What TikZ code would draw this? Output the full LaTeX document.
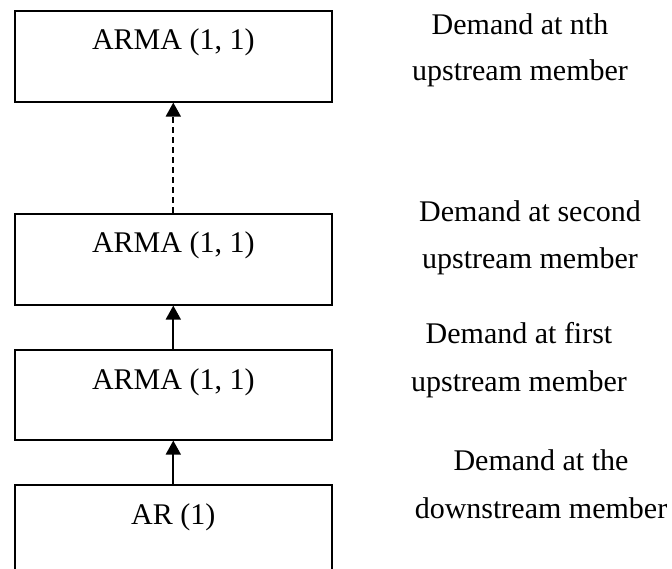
\documentclass[tikz,border=0pt]{standalone}
\usepackage{fontspec}
\setmainfont{Liberation Serif}
\usetikzlibrary{arrows.meta,calc}
\begin{document}
\begin{tikzpicture}[x=1pt,y=-1pt,
  box/.style={draw=black,line width=1.6pt,minimum width=317pt,inner sep=0pt,anchor=north west},
  boxtext/.style={anchor=base,inner sep=0pt,font=\fontsize{30}{36}\selectfont},
  side/.style={anchor=base,inner sep=0pt,font=\fontsize{30}{36}\selectfont},
  conn/.style={line width=1.8pt,-{Triangle[width=15pt,length=14pt]}},
  dashconn/.style={conn,dash pattern=on 6pt off 4pt}]
\useasboundingbox (0,0) rectangle (672,569);
\node[box,minimum height=91pt] (b1) at (14,10) {};
\node[box,minimum height=91pt] (b2) at (14,213) {};
\node[box,minimum height=90pt] (b3) at (14,349) {};
\node[box,minimum height=110pt] (b4) at (14,484) {};
\node[boxtext] (t1) at ($(b1.north)+(0,40)$) {ARMA (1, 1)};
\node[boxtext] (t2) at ($(b2.north)+(0,40)$) {ARMA (1, 1)};
\node[boxtext] (t3) at ($(b3.north)+(0,40)$) {ARMA (1, 1)};
\node[boxtext] (t4) at ($(b4.north)+(0,40)$) {AR (1)};
\draw[dashconn] (b2.north) -- (b1.south);
\draw[conn] (b3.north) -- (b2.south);
\draw[conn] (b4.north) -- (b3.south);
\node[side] (s1a) at (520,35) {Demand at nth};
\node[side] (s1b) at (520,81) {upstream member};
\node[side] (s2a) at (530,222) {Demand at second};
\node[side] (s2b) at (530,269) {upstream member};
\node[side] (s3a) at (519,343) {Demand at first};
\node[side] (s3b) at (519,391) {upstream member};
\node[side] (s4a) at (541,470) {Demand at the};
\node[side] (s4b) at (541,518) {downstream member};
\end{tikzpicture}
\end{document}
